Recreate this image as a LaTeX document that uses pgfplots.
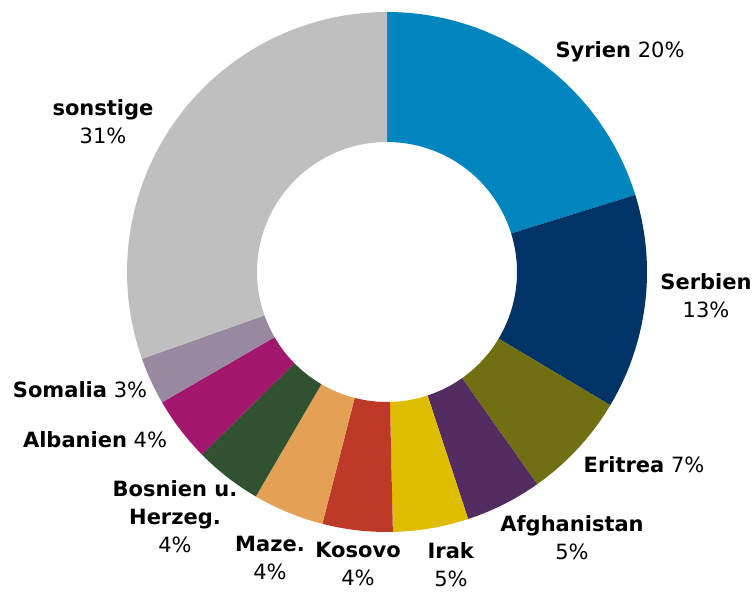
\documentclass[border=0pt]{standalone}
\usepackage{pgfplots}
\pgfplotsset{compat=1.18}
\usepackage{pgfplotstable}
\usepackage{fontspec}
\setmainfont{DejaVu Sans}
\definecolor{c0}{HTML}{0085BE}
\definecolor{c1}{HTML}{003366}
\definecolor{c2}{HTML}{707012}
\definecolor{c3}{HTML}{542D60}
\definecolor{c4}{HTML}{DEBC00}
\definecolor{c5}{HTML}{BE3A28}
\definecolor{c6}{HTML}{E4A054}
\definecolor{c7}{HTML}{315230}
\definecolor{c8}{HTML}{A3186E}
\definecolor{c9}{HTML}{9888A0}
\definecolor{c10}{HTML}{BFBFBF}
\pgfplotstableread[col sep=comma]{
name,value
Syrien,20.21
Serbien,13.35
Eritrea,6.64
Afghanistan,4.75
Irak,4.69
Kosovo,4.36
Maze.,4.42
Bosnien u. Herzeg.,4.19
Albanien,4.03
Somalia,2.94
sonstige,30.42
}\data
\begin{document}
\begin{tikzpicture}[lbl/.style={font=\fontsize{21bp}{28bp}\selectfont,align=center,text=black,inner sep=0pt}]
\begin{axis}[x=1bp,y=1bp,xmin=0,xmax=755,ymin=0,ymax=592,hide axis,clip=false,scale only axis]
\path (axis cs:0,0) rectangle (axis cs:755,592);
\def\cx{387}\def\cy{320}\def\Ro{260}\def\Ri{130}
\def\cum{0}
\pgfplotsforeachungrouped \i in {0,...,10}{%
  \pgfplotstablegetelem{\i}{value}\of\data
  \let\v\pgfplotsretval
  \pgfmathsetmacro\aa{90-3.6*\cum}%
  \pgfmathsetmacro\ab{90-3.6*(\cum+\v)}%
  \pgfmathsetmacro\xa{\cx+\Ro*cos(\aa)}%
  \pgfmathsetmacro\ya{\cy+\Ro*sin(\aa)}%
  \pgfmathsetmacro\xb{\cx+\Ri*cos(\ab)}%
  \pgfmathsetmacro\yb{\cy+\Ri*sin(\ab)}%
  \edef\cmd{\noexpand\fill[c\i] (axis cs:\xa,\ya) arc[start angle=\aa,end angle=\ab,radius=\Ro bp] -- (axis cs:\xb,\yb) arc[start angle=\ab,end angle=\aa,radius=\Ri bp] -- cycle;}%
  \cmd
  \pgfmathsetmacro\cum{\cum+\v}%
}
\node[lbl] at (axis cs:620,540) {\textbf{Syrien} 20\%};
\node[lbl] at (axis cs:706,296) {\textbf{Serbien}\\13\%};
\node[lbl] at (axis cs:644,127) {\textbf{Eritrea} 7\%};
\node[lbl] at (axis cs:572,54) {\textbf{Afghanistan}\\5\%};
\node[lbl] at (axis cs:451,27) {\textbf{Irak}\\5\%};
\node[lbl] at (axis cs:358,28) {\textbf{Kosovo}\\4\%};
\node[lbl] at (axis cs:270,34) {\textbf{Maze.}\\4\%};
\node[lbl] at (axis cs:175,75) {\textbf{Bosnien u.}\\\textbf{Herzeg.}\\4\%};
\node[lbl] at (axis cs:95,152) {\textbf{Albanien} 4\%};
\node[lbl] at (axis cs:80,202) {\textbf{Somalia} 3\%};
\node[lbl] at (axis cs:103,470) {\textbf{sonstige}\\31\%};
\end{axis}
\end{tikzpicture}
\end{document}
